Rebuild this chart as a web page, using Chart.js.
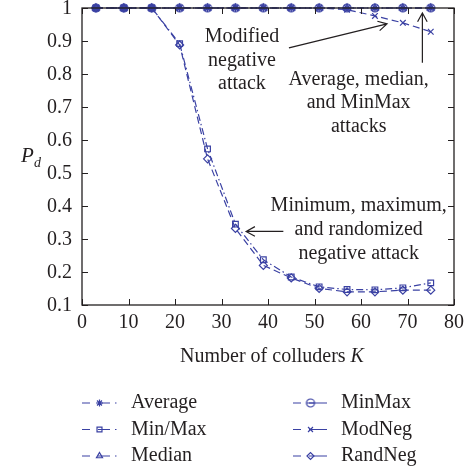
<!DOCTYPE html>
<html>
<head>
<meta charset="utf-8">
<script src="https://cdn.jsdelivr.net/npm/chart.js@4"></script>
<style>
    html, body { margin: 0; padding: 0; background: #fff; }
    #wrap { width: 470px; height: 475px; }
</style>
</head>
<body>
<div id="wrap"><canvas id="pdChart" width="470" height="475"></canvas></div>
<script>
// Colluder counts and detection probabilities
const colluders = [3, 9, 15, 21, 27, 33, 39, 45, 51, 57, 63, 69, 75];
const averagePd = [1, 1, 1, 1, 1, 1, 1, 1, 1, 1, 1, 1, 1];
const minOrMaxPd = [1, 1, 1, 0.892, 0.573, 0.345, 0.237, 0.185, 0.155, 0.147, 0.146, 0.152, 0.167];
const medianPd = [1, 1, 1, 1, 1, 1, 1, 1, 1, 1, 1, 1, 1];
const minMaxPd = [1, 1, 1, 1, 1, 1, 1, 1, 1, 1, 1, 1, 1];
const modNegPd = [1, 1, 1, 1, 1, 1, 1, 1, 1, 0.995, 0.976, 0.955, 0.928];
const randNegPd = [1, 1, 1, 0.888, 0.543, 0.332, 0.22, 0.182, 0.15, 0.14, 0.14, 0.145, 0.145];

const xTickLabels = ['0', '10', '20', '30', '40', '50', '60', '70', '80'];
const yTickLabels = ['0.1', '0.2', '0.3', '0.4', '0.5', '0.6', '0.7', '0.8', '0.9', '1'];

const BLUE = '#3a41a3';
const FONT = "'Liberation Serif', 'DejaVu Serif', serif";
const INK = '#231f20';

// circle with a bar through it, for the MinMax marker
function circleBar() {
    const c = document.createElement('canvas');
    c.width = 12; c.height = 12;
    const g = c.getContext('2d');
    g.strokeStyle = BLUE;
    g.lineWidth = 1.2;
    g.beginPath();
    g.arc(6, 6, 4, 0, Math.PI * 2);
    g.moveTo(2, 6);
    g.lineTo(10, 6);
    g.stroke();
    return c;
}

function series(label, data, pointStyle, dash, legendDot, fill) {
    return {
        label: label,
        data: colluders.map((k, i) => ({ x: k, y: data[i] })),
        borderColor: BLUE,
        backgroundColor: fill ? BLUE : 'rgba(0,0,0,0)',
        pointBorderColor: BLUE,
        pointBackgroundColor: fill ? BLUE : 'rgba(0,0,0,0)',
        borderWidth: 1.2,
        borderDash: dash,
        pointStyle: pointStyle,
        pointRadius: 4,
        pointBorderWidth: 1.2,
        tension: 0,
        clip: false,
        legendDot: legendDot
    };
}

const dashDot = [7, 3, 1.5, 3];
const dashed = [7, 4];

const datasets = [
    series('Average', averagePd, 'star', dashDot, true, true),
    series('Min/Max', minOrMaxPd, 'rect', dashDot, true, false),
    series('Median', medianPd, 'triangle', dashDot, true, false),
    series('MinMax', minMaxPd, circleBar(), dashed, false, false),
    series('ModNeg', modNegPd, 'crossRot', dashed, false, false),
    series('RandNeg', randNegPd, 'rectRot', dashed, false, false)
];

// Annotations placed in data coordinates
const notes = [
    { lines: ['Modified', 'negative', 'attack'], x: 34.4, y: 0.913 },
    { lines: ['Average, median,', 'and MinMax', 'attacks'], x: 59.5, y: 0.784 },
    { lines: ['Minimum, maximum,', 'and randomized', 'negative attack'], x: 59.5, y: 0.4 }
];
const arrows = [
    { from: [44.5, 0.879], to: [65.6, 0.952] },
    { from: [73.2, 0.834], to: [73.2, 0.985] },
    { from: [43.3, 0.323], to: [35.3, 0.323] }
];

const framePlugin = {
    id: 'frame',
    afterDraw(chart) {
        const ctx = chart.ctx;
        const a = chart.chartArea;
        const xs = chart.scales.x, ys = chart.scales.y;
        ctx.save();
        ctx.strokeStyle = INK;
        ctx.lineWidth = 1.3;
        ctx.strokeRect(a.left, a.top, a.right - a.left, a.bottom - a.top);
        // inward ticks on all four sides
        ctx.lineWidth = 1;
        ctx.beginPath();
        xs.ticks.forEach(t => {
            const px = Math.round(xs.getPixelForValue(t.value)) + 0.5;
            ctx.moveTo(px, a.bottom); ctx.lineTo(px, a.bottom - 6);
            ctx.moveTo(px, a.top); ctx.lineTo(px, a.top + 6);
        });
        ys.ticks.forEach(t => {
            const py = Math.round(ys.getPixelForValue(t.value)) + 0.5;
            ctx.moveTo(a.left, py); ctx.lineTo(a.left + 6, py);
            ctx.moveTo(a.right, py); ctx.lineTo(a.right - 6, py);
        });
        ctx.stroke();

        // y tick labels
        ctx.fillStyle = INK;
        ctx.textBaseline = 'middle';
        ctx.textAlign = 'right';
        ctx.font = '20px ' + FONT;
        ys.ticks.forEach((t, i) => {
            ctx.fillText(yTickLabels[i], a.left - 10, ys.getPixelForValue(t.value) + 1);
        });

        // axis titles
        ctx.textAlign = 'left';
        const head = 'Number of colluders ';
        ctx.font = 'italic 20px ' + FONT;
        const kw = ctx.measureText('K').width;
        ctx.font = '20px ' + FONT;
        const hw = ctx.measureText(head).width;
        const start = 272 - (hw + kw) / 2;
        ctx.fillText(head, start, 357);
        ctx.font = 'italic 20px ' + FONT;
        ctx.fillText('K', start + hw, 357);
        ctx.font = 'italic 21px ' + FONT;
        ctx.fillText('P', 21, 156);
        ctx.font = 'italic 14px ' + FONT;
        ctx.fillText('d', 34, 163);

        // annotations
        ctx.font = '20px ' + FONT;
        ctx.textAlign = 'center';
        notes.forEach(n => {
            const cx = xs.getPixelForValue(n.x);
            const cy = ys.getPixelForValue(n.y);
            n.lines.forEach((ln, i) => ctx.fillText(ln, cx, cy + i * 23.7));
        });
        ctx.strokeStyle = INK;
        ctx.lineWidth = 1.2;
        arrows.forEach(ar => {
            const x0 = xs.getPixelForValue(ar.from[0]), y0 = ys.getPixelForValue(ar.from[1]);
            const x1 = xs.getPixelForValue(ar.to[0]), y1 = ys.getPixelForValue(ar.to[1]);
            const ang = Math.atan2(y1 - y0, x1 - x0);
            ctx.beginPath();
            ctx.moveTo(x0, y0); ctx.lineTo(x1, y1);
            ctx.moveTo(x1 - 10 * Math.cos(ang - 0.5), y1 - 10 * Math.sin(ang - 0.5));
            ctx.lineTo(x1, y1);
            ctx.lineTo(x1 - 10 * Math.cos(ang + 0.5), y1 - 10 * Math.sin(ang + 0.5));
            ctx.stroke();
        });

        // legend, two columns
        const cols = [{ x: 82, text: 131 }, { x: 293, text: 341 }];
        chart.data.datasets.forEach((ds, i) => {
            const col = cols[Math.floor(i / 3)];
            const y = 403 + (i % 3) * 26.5;
            ctx.save();
            ctx.strokeStyle = BLUE;
            ctx.fillStyle = ds.pointBackgroundColor;
            ctx.lineWidth = 1.2;
            ctx.beginPath();
            ctx.moveTo(col.x, y); ctx.lineTo(col.x + 8, y);
            ctx.moveTo(col.x + 16, y); ctx.lineTo(col.x + (ds.legendDot ? 28 : 34), y);
            if (ds.legendDot) { ctx.moveTo(col.x + 33, y); ctx.lineTo(col.x + 34.5, y); }
            ctx.stroke();
            Chart.helpers.drawPoint(ctx, {
                pointStyle: ds.pointStyle, radius: 3.5, borderWidth: 1.2, rotation: 0
            }, col.x + 17.5, y);
            ctx.restore();
            ctx.fillStyle = INK;
            ctx.textAlign = 'left';
            ctx.font = '20px ' + FONT;
            ctx.fillText(ds.label, col.text, y);
        });
        ctx.restore();
    }
};

new Chart(document.getElementById('pdChart').getContext('2d'), {
    type: 'line',
    data: { datasets: datasets },
    options: {
        responsive: false,
        animation: false,
        layout: { padding: { top: 8, left: 0, right: 0, bottom: 0 } },
        plugins: { legend: { display: false }, tooltip: { enabled: false } },
        scales: {
            x: {
                type: 'linear',
                min: 0, max: 80,
                afterFit: s => { s.height = 170; },
                grid: { display: false, drawTicks: false },
                border: { display: false },
                ticks: {
                    stepSize: 10, padding: 6, color: INK, maxRotation: 0,
                    font: { family: FONT, size: 20 },
                    callback: (v, i) => xTickLabels[i]
                }
            },
            y: {
                type: 'linear',
                min: 0.1, max: 1,
                afterFit: s => { s.width = 82; },
                grid: { display: false, drawTicks: false },
                border: { display: false },
                ticks: { stepSize: 0.1, display: false }
            }
        }
    },
    plugins: [framePlugin]
});
</script>
</body>
</html>
